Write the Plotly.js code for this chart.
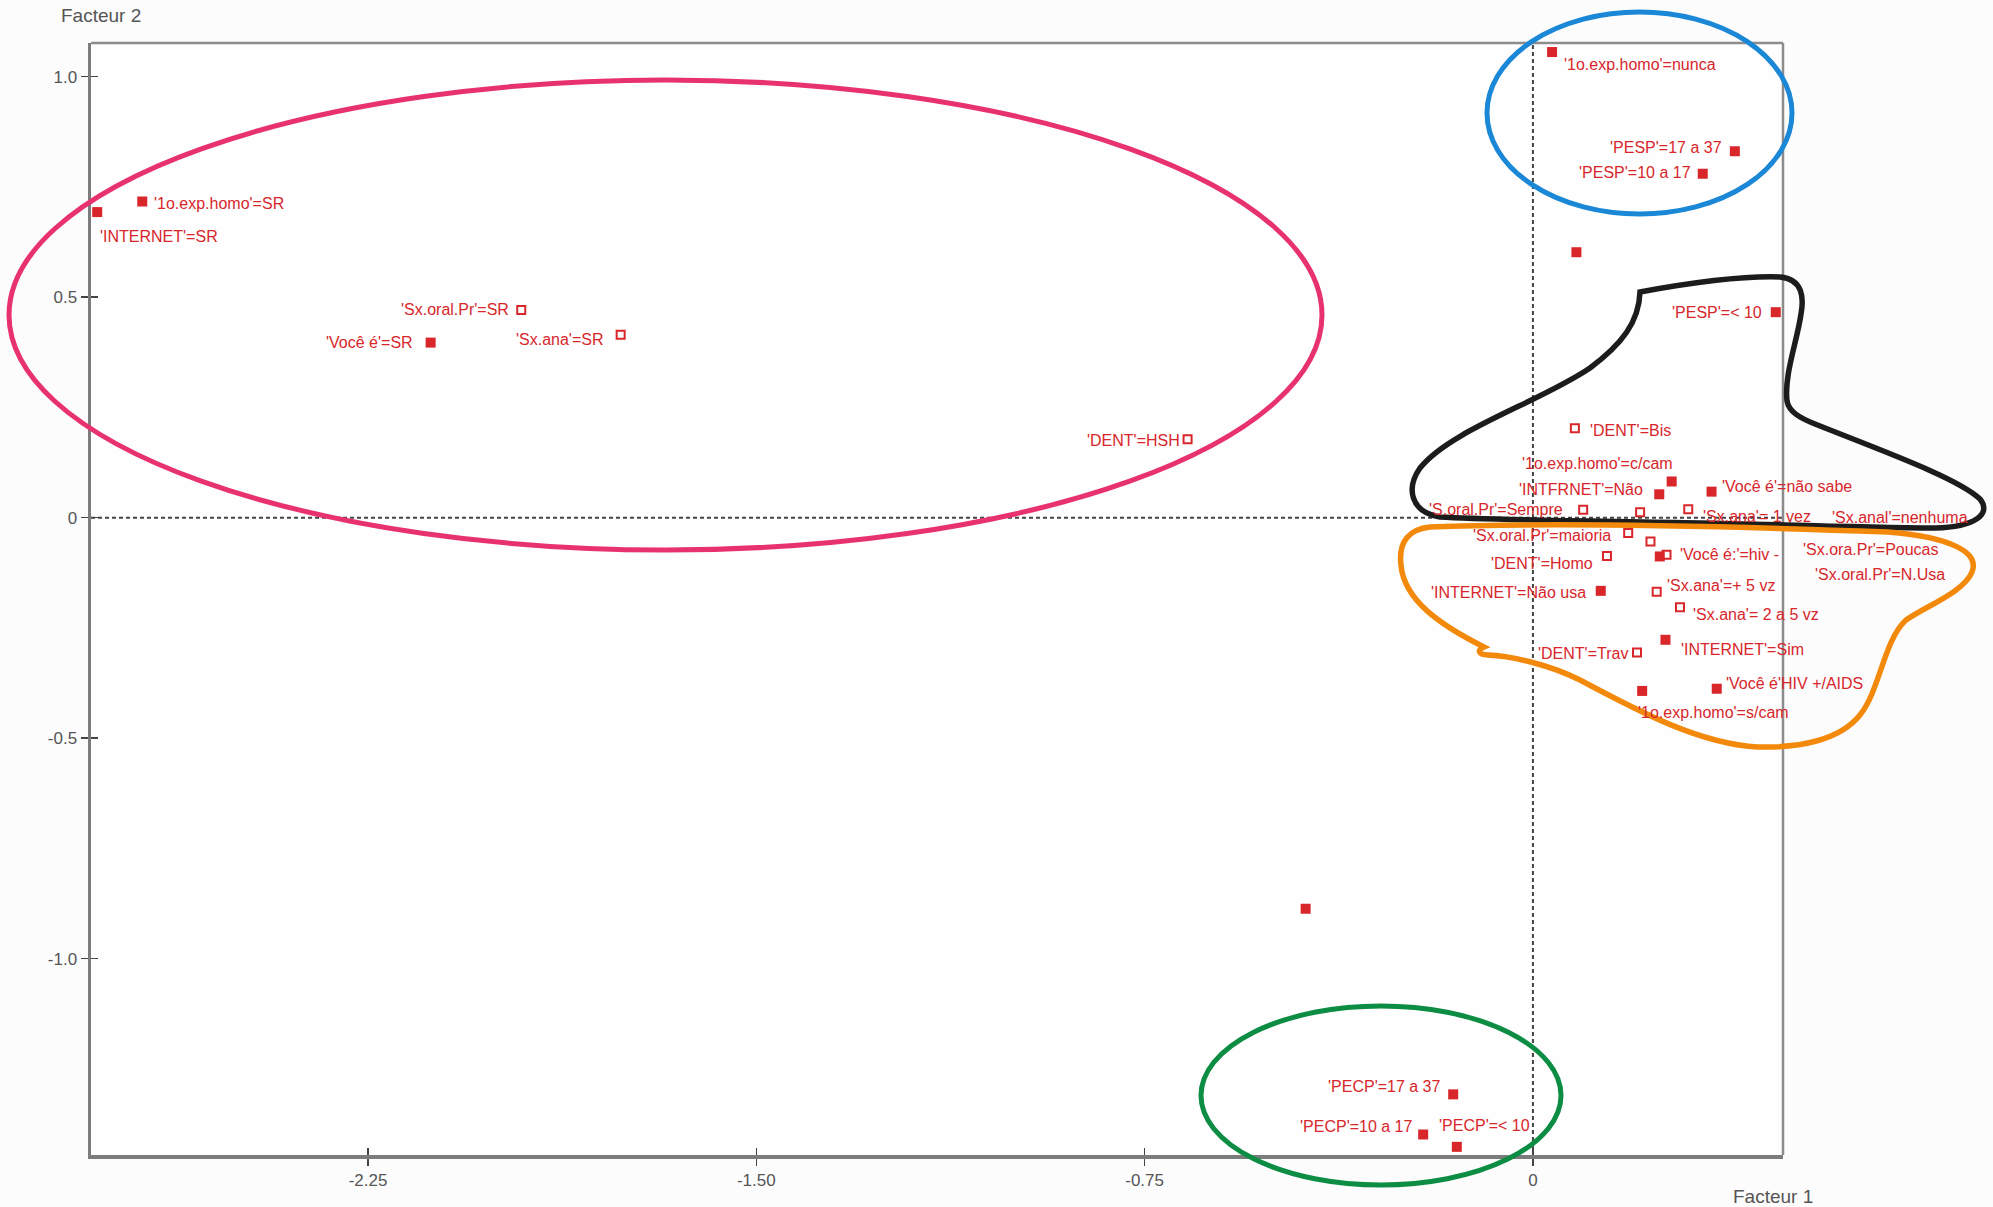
<!DOCTYPE html>
<html>
<head>
<meta charset="utf-8">
<script src="https://cdn.plot.ly/plotly-3.0.1.min.js"></script>
<style>html,body{margin:0;padding:0;background:#fcfcfd;}#chart{width:1993px;height:1207px;}</style>
</head>
<body>
<div id="chart"></div>
<script>
// ---------------- DATA ----------------
const labels = [
  "'1o.exp.homo'=SR", "'INTERNET'=SR", "'Sx.oral.Pr'=SR", "'Você é'=SR", "'Sx.ana'=SR", "'DENT'=HSH",
  "'1o.exp.homo'=nunca", "'PESP'=17 a 37", "'PESP'=10 a 17", "", "'PESP'=< 10",
  "'DENT'=Bis", "'1o.exp.homo'=c/cam", "'INTFRNET'=Não", "'Você é'=não sabe",
  "'S.oral.Pr'=Sempre", "'Sx.anal'=nenhuma", "'Sx.ana'= 1 vez", "'Sx.oral.Pr'=maioria",
  "'Sx.ora.Pr'=Poucas", "'DENT'=Homo", "'Você é:'=hiv -", "'Sx.oral.Pr'=N.Usa",
  "'INTERNET'=Não usa", "'Sx.ana'=+ 5 vz", "'Sx.ana'= 2 a 5 vz", "'INTERNET'=Sim",
  "'DENT'=Trav", "'1o.exp.homo'=s/cam", "'Você é'HIV +/AIDS",
  "", "'PECP'=17 a 37", "'PECP'=10 a 17", "'PECP'=< 10"
];
const facteur1 = [
  -2.686, -2.773, -1.954, -2.129, -1.762, -0.667,
  0.037, 0.390, 0.328, 0.084, 0.469,
  0.081, 0.268, 0.244, 0.345,
  0.097, 0.207, 0.300, 0.184,
  0.227, 0.143, 0.245, 0.258,
  0.131, 0.239, 0.284, 0.256,
  0.201, 0.211, 0.355,
  -0.439, -0.154, -0.212, -0.147
];
const facteur2 = [
  0.717, 0.693, 0.471, 0.397, 0.415, 0.178,
  1.056, 0.831, 0.780, 0.602, 0.466,
  0.203, 0.082, 0.053, 0.059,
  0.018, 0.012, 0.019, -0.035,
  -0.054, -0.087, -0.088, -0.084,
  -0.166, -0.168, -0.203, -0.277,
  -0.306, -0.393, -0.388,
  -0.887, -1.308, -1.399, -1.427
];
// 'A' = filled square (active), 'S' = open square (supplementary)
const kind = [
  'A','A','S','A','S','S',
  'A','A','A','A','A',
  'S','A','A','A',
  'S','S','S','S',
  'S','S','A','S',
  'A','S','S','A',
  'S','A','A',
  'A','A','A','A'
];
const xTickVals = [-2.25, -1.50, -0.75, 0];
const xTickText = ['-2.25', '-1.50', '-0.75', '0'];
const yTickVals = [-1.0, -0.5, 0, 0.5, 1.0];
const yTickText = ['-1.0', '-0.5', '0', '0.5', '1.0'];
const xTitle = 'Facteur 1';
const yTitle = 'Facteur 2';

// ---------------- LABEL PLACEMENT (pixel offsets from each point) ----------------
// [anchor side, dx, dy]  dy positive = down
const labelPlace = [
  ['left',10,2], ['left',1,24], ['right',-10,0], ['right',-16,0], ['right',-15,5], ['right',-6,1],
  ['left',10,12], ['right',-11,-4], ['right',-10,-1], ['left',0,0], ['right',-12,0],
  ['left',13,2], ['right',3,-18], ['right',-14,-5], ['left',8,-5],
  ['right',-18,0], ['left',190,5], ['left',13,7], ['right',-15,2],
  ['left',151,8], ['right',-12,7], ['left',18,-2], ['left',146,20],
  ['right',-13,2], ['left',8,-6], ['left',11,7], ['left',14,10],
  ['right',-7,1], ['left',-6,22], ['left',7,-5],
  ['left',0,0], ['right',-10,-8], ['right',-8,-8], ['left',-20,-21]
];

// ---------------- GEOMETRY ----------------
const W = 1993, H = 1207;
const L = 91, R = 1783, T = 43, B = 1155;
const xRange = [-2.785, 0.483];
const yRange = [-1.4455, 1.0765];
const FONT = "'Liberation Sans', Arial, sans-serif";
const RED = '#d8262b';

function px(x) { return (x - L) / (R - L); }
function py(y) { return (B - y) / (B - T); }
function pathPx(segs) {
  return segs.map(s => {
    const c = s[0]; const nums = s.slice(1); const out = [];
    for (let i = 0; i < nums.length; i += 2) out.push(px(nums[i]).toFixed(5) + ',' + py(nums[i+1]).toFixed(5));
    return c + ' ' + out.join(' ');
  }).join(' ') + ' Z';
}
function ellipsePx(x0, y0, x1, y1, color) {
  return {type:'circle', xref:'paper', yref:'paper', x0:px(x0), x1:px(x1), y0:py(y1), y1:py(y0),
          line:{color:color, width:5}, layer:'above'};
}

// ---------------- TRACES ----------------
function pick(arr, k) { return arr.filter((_, i) => kind[i] === k); }
const traceActive = {
  type:'scatter', mode:'markers', x: pick(facteur1,'A'), y: pick(facteur2,'A'), text: pick(labels,'A'),
  marker:{symbol:'square', size:10, color:RED}, cliponaxis:false, hoverinfo:'text', showlegend:false
};
const traceSup = {
  type:'scatter', mode:'markers', x: pick(facteur1,'S'), y: pick(facteur2,'S'), text: pick(labels,'S'),
  marker:{symbol:'square-open', size:8, color:RED, line:{color:RED, width:2}}, cliponaxis:false, hoverinfo:'text', showlegend:false
};
const traceTicks = {type:'scatter', mode:'markers', x:[], y:[], xaxis:'x2', yaxis:'y2', showlegend:false, hoverinfo:'skip'};

const annotations = labels.map((t, i) => t ? {
  x: facteur1[i], y: facteur2[i], xref:'x', yref:'y', text: t, showarrow:false,
  xanchor: labelPlace[i][0], yanchor:'middle', xshift: labelPlace[i][1], yshift: -labelPlace[i][2],
  font:{family:FONT, size:16, color:RED}
} : null).filter(a => a);

annotations.push({xref:'paper', yref:'paper', x:px(59), y:py(3), xanchor:'left', yanchor:'top', text:yTitle,
  showarrow:false, font:{family:FONT, size:19, color:'#555'}});
annotations.push({xref:'paper', yref:'paper', x:px(1731), y:py(1184), xanchor:'left', yanchor:'top', text:xTitle,
  showarrow:false, font:{family:FONT, size:19, color:'#555'}});

const shapes = [
  // dashed origin lines
  {type:'line', xref:'x', yref:'y domain', x0:0, x1:0, y0:0, y1:1, line:{color:'#444', width:2, dash:'4px,3px'}, layer:'below'},
  {type:'line', xref:'x domain', yref:'y', x0:0, x1:1, y0:0, y1:0, line:{color:'#444', width:2, dash:'4px,3px'}, layer:'below'},
  // frame top/right
  {type:'line', xref:'paper', yref:'paper', x0:0, x1:1, y0:1, y1:1, line:{color:'#8c8c8c', width:2.5}},
  {type:'line', xref:'paper', yref:'paper', x0:1, x1:1, y0:0, y1:1, line:{color:'#8c8c8c', width:2.5}},
  // hand-drawn highlights
  ellipsePx(9, 80, 1322, 550, '#e8326f'),
  ellipsePx(1487, 12, 1792, 214, '#1b88d7'),
  ellipsePx(1201, 1006, 1561, 1185, '#0c8d43'),
  {type:'path', xref:'paper', yref:'paper', layer:'above', line:{color:'#1c1c1c', width:5.5},
   path: pathPx([
     ['M',1640,292], ['C',1700,281,1750,276,1780,277], ['C',1803,279,1804,298,1801,314],
     ['C',1797,342,1784,375,1787,401], ['C',1789,412,1800,418,1815,424],
     ['C',1880,450,1958,478,1980,499], ['C',1992,514,1975,527,1935,528],
     ['C',1850,527,1760,524,1700,523], ['C',1600,521,1490,520,1440,517],
     ['C',1410,512,1406,488,1420,468], ['C',1450,430,1540,402,1590,368],
     ['C',1622,344,1639,322,1640,292]
   ])},
  {type:'path', xref:'paper', yref:'paper', layer:'above', line:{color:'#f3890b', width:5.5},
   path: pathPx([
     ['M',1430,527], ['C',1550,522,1750,527,1888,532], ['C',1950,537,1980,552,1972,572],
     ['C',1964,592,1926,606,1906,620], ['C',1884,640,1880,690,1860,715],
     ['C',1840,740,1800,748,1758,747], ['C',1700,744,1640,712,1580,680],
     ['C',1550,665,1512,656,1488,655], ['C',1478,655,1477,650,1484,647],
     ['C',1440,625,1404,600,1401,565], ['C',1398,541,1410,529,1430,527]
   ])}
];

const tickFont = {family:FONT, size:17, color:'#555'};
const layout = {
  width: W, height: H,
  margin:{l:L, r:W-R, t:T, b:H-B, pad:0},
  paper_bgcolor:'#fcfcfd', plot_bgcolor:'#fefefe',
  showlegend:false,
  xaxis:{range:xRange, tickvals:xTickVals, ticktext:xTickText, ticks:'outside', ticklen:7, tickwidth:1.5, tickcolor:'#444',
         showgrid:false, zeroline:false, showline:true, linecolor:'#7c7c7c', linewidth:4, mirror:false,
         tickfont:tickFont, fixedrange:true},
  yaxis:{range:yRange, tickvals:yTickVals, ticktext:yTickText, ticks:'outside', ticklen:7, tickwidth:1.5, tickcolor:'#444',
         showgrid:false, zeroline:false, showline:true, linecolor:'#7c7c7c', linewidth:3.5, mirror:false,
         tickfont:tickFont, fixedrange:true},
  xaxis2:{range:xRange, overlaying:'x', anchor:'y2', side:'bottom', tickvals:xTickVals, ticks:'inside', ticklen:7, tickwidth:1.5,
          tickcolor:'#444', showticklabels:false, showgrid:false, zeroline:false, showline:false},
  yaxis2:{range:yRange, overlaying:'y', anchor:'x2', side:'left', tickvals:yTickVals, ticks:'inside', ticklen:7, tickwidth:1.5,
          tickcolor:'#444', showticklabels:false, showgrid:false, zeroline:false, showline:false},
  shapes: shapes,
  annotations: annotations
};

Plotly.newPlot('chart', [traceSup, traceActive, traceTicks], layout, {displayModeBar:false, staticPlot:true});
</script>
</body>
</html>
